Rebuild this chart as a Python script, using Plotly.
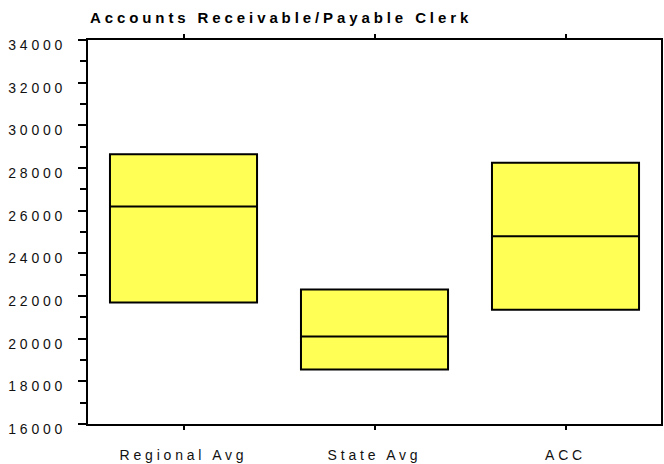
import plotly.graph_objects as go

# Salary ranges by comparison group
categories = ["Regional Avg", "State Avg", "ACC"]
range_low = [21700, 18550, 21350]
range_mid = [26200, 20100, 24800]
range_high = [28650, 22300, 28250]

y_ticks = list(range(16000, 34001, 2000))

FONT = "Liberation Sans, Arial, sans-serif"

fig = go.Figure(
    go.Box(
        x=categories,
        q1=range_low,
        median=range_mid,
        q3=range_high,
        lowerfence=range_low,
        upperfence=range_high,
        width=0.77,
        whiskerwidth=0,
        fillcolor="#FFFF55",
        line=dict(color="black", width=2),
        boxpoints=False,
        hoverinfo="skip",
    )
)

fig.update_layout(
    width=664,
    height=464,
    margin=dict(l=88, r=1, t=40, b=40),
    paper_bgcolor="white",
    plot_bgcolor="white",
    showlegend=False,
    font=dict(family=FONT, size=14, color="#111111"),
    title=dict(
        text="Accounts Receivable/Payable Clerk",
        font=dict(family=FONT, size=15, color="black", weight="bold"),
        xref="container",
        yref="container",
        x=90 / 664,
        xanchor="left",
        y=1 - 17.5 / 464,
        yanchor="middle",
    ),
)

fig.update_yaxes(
    range=[16000, 34000],
    tickvals=y_ticks,
    ticktext=[str(v) for v in y_ticks],
    ticks="outside",
    ticklen=8,
    tickwidth=2,
    tickcolor="black",
    minor=dict(dtick=1000, tick0=16000, ticks="outside", ticklen=6, tickwidth=2, tickcolor="black"),
    showline=True,
    linecolor="black",
    linewidth=2,
    mirror=True,
    showgrid=False,
    zeroline=False,
    ticklabelshift=5,
    ticklabelstandoff=9,
)

fig.update_xaxes(
    range=[-0.5, 2.5],
    ticks="outside",
    ticklen=4,
    tickwidth=2,
    tickcolor="black",
    showline=True,
    linecolor="black",
    linewidth=2,
    mirror="ticks",
    showgrid=False,
    ticklabelstandoff=13,
)

# Widen the letter spacing of the axis and title text
spacing_js = """
var gd = document.getElementById('{plot_id}');
gd.querySelectorAll('.xtick text, .ytick text').forEach(function (t) {
    t.style.letterSpacing = '3.8px';
});
var ttl = gd.querySelector('.gtitle');
if (ttl) { ttl.style.letterSpacing = '3.9px'; }
"""

fig.write_html("out.html", post_script=spacing_js)
